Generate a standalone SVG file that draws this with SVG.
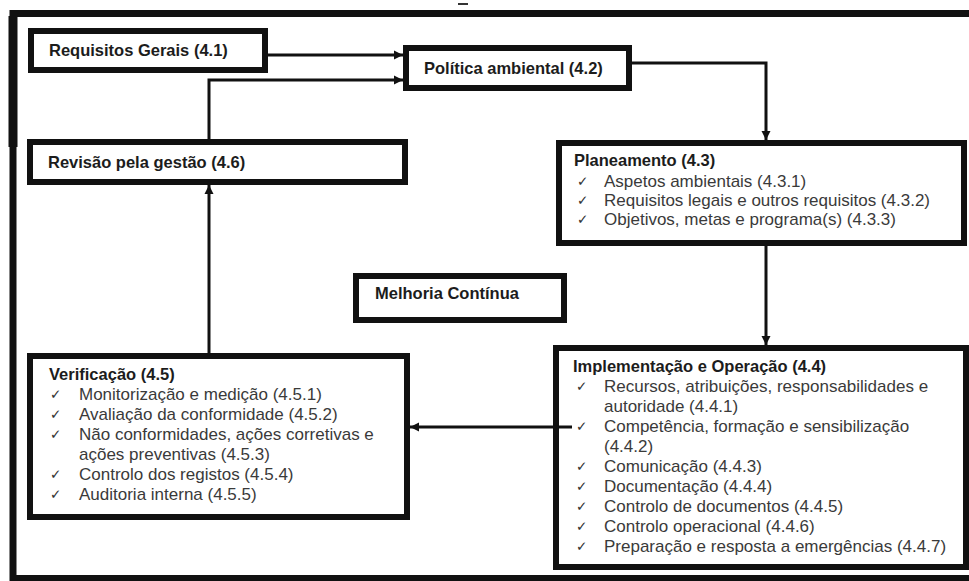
<svg xmlns="http://www.w3.org/2000/svg" width="969" height="581" viewBox="0 0 969 581">
<style>
.box{fill:#fff;stroke:#111;stroke-width:6}
.ttl{font-family:"Liberation Sans",Arial,sans-serif;font-weight:bold;font-size:16.5px;fill:#1c1c1c}
.txt{font-family:"Liberation Sans",Arial,sans-serif;font-size:17px;fill:#3a3a3a}
.chk{font-family:"DejaVu Sans",sans-serif;font-size:13.5px;fill:#333}
.con{fill:none;stroke:#111;stroke-width:3}
</style>
<defs>
<marker id="ah" markerUnits="userSpaceOnUse" markerWidth="10" markerHeight="10" refX="9" refY="5" orient="auto">
<path d="M0,0.5 L9,5 L0,9.5 z" fill="#111"/>
</marker>
</defs>
<rect width="969" height="581" fill="#fff"/>
<g id="frame">
<path d="M969 13.5 H13 V578.5 H969" fill="none" stroke="#111" stroke-width="7"/>
<path d="M13 16 V147" fill="none" stroke="#111" stroke-width="9"/>
<rect x="458" y="3" width="10" height="2" fill="#333"/>
</g>
<g id="n41">
<rect class="box" x="31" y="31" width="234" height="39"/>
<text class="ttl" x="49" y="56">Requisitos Gerais (4.1)</text>
</g>
<g id="n42">
<rect class="box" x="406" y="48" width="223" height="40"/>
<text class="ttl" x="424" y="74">Política ambiental (4.2)</text>
</g>
<g id="n46">
<rect class="box" x="30" y="142" width="375" height="40"/>
<text class="ttl" x="48" y="167.5">Revisão pela gestão (4.6)</text>
</g>
<g id="n43">
<rect class="box" x="559" y="143" width="405" height="100"/>
<text class="ttl" x="574" y="166">Planeamento (4.3)</text>
<text class="chk" x="577" y="186">✓</text><text class="txt" x="604" y="187">Aspetos ambientais (4.3.1)</text>
<text class="chk" x="577" y="205">✓</text><text class="txt" x="604" y="206">Requisitos legais e outros requisitos (4.3.2)</text>
<text class="chk" x="577" y="224">✓</text><text class="txt" x="604" y="225">Objetivos, metas e programa(s) (4.3.3)</text>
</g>
<g id="melhoria">
<rect class="box" x="356" y="276" width="208" height="44"/>
<text class="ttl" x="375" y="299">Melhoria Contínua</text>
</g>
<g id="n45">
<rect class="box" x="30" y="356" width="377" height="161"/>
<text class="ttl" x="49" y="380">Verificação (4.5)</text>
<text class="chk" x="50" y="399">✓</text><text class="txt" x="79" y="400">Monitorização e medição (4.5.1)</text>
<text class="chk" x="50" y="419">✓</text><text class="txt" x="79" y="420">Avaliação da conformidade (4.5.2)</text>
<text class="chk" x="50" y="439">✓</text><text class="txt" x="79" y="440">Não conformidades, ações corretivas e</text>
<text class="txt" x="79" y="460">ações preventivas (4.5.3)</text>
<text class="chk" x="50" y="479">✓</text><text class="txt" x="79" y="480">Controlo dos registos (4.5.4)</text>
<text class="chk" x="50" y="499">✓</text><text class="txt" x="79" y="500">Auditoria interna (4.5.5)</text>
</g>
<g id="n44">
<rect class="box" x="556" y="348" width="410" height="219"/>
<text class="ttl" x="573" y="372">Implementação e Operação (4.4)</text>
<text class="chk" x="576" y="391">✓</text><text class="txt" x="604" y="392">Recursos, atribuições, responsabilidades e</text>
<text class="txt" x="604" y="412">autoridade (4.4.1)</text>
<text class="chk" x="576" y="431">✓</text><text class="txt" x="604" y="432">Competência, formação e sensibilização</text>
<text class="txt" x="604" y="452">(4.4.2)</text>
<text class="chk" x="576" y="471">✓</text><text class="txt" x="604" y="472">Comunicação (4.4.3)</text>
<text class="chk" x="576" y="491">✓</text><text class="txt" x="604" y="492">Documentação (4.4.4)</text>
<text class="chk" x="576" y="511">✓</text><text class="txt" x="604" y="512">Controlo de documentos (4.4.5)</text>
<text class="chk" x="576" y="531">✓</text><text class="txt" x="604" y="532">Controlo operacional (4.4.6)</text>
<text class="chk" x="576" y="551">✓</text><text class="txt" x="604" y="552">Preparação e resposta a emergências (4.4.7)</text>
</g>
<g id="connectors">
<path class="con" d="M268 55 H403" marker-end="url(#ah)"/>
<path class="con" d="M209 139 V80 H403" marker-end="url(#ah)"/>
<path class="con" d="M632 63 H766 V140" marker-end="url(#ah)"/>
<path class="con" d="M766 246 V345" marker-end="url(#ah)"/>
<path class="con" d="M572 427 H410" marker-end="url(#ah)"/>
<path class="con" d="M209 353 V185" marker-end="url(#ah)"/>
</g>
</svg>
